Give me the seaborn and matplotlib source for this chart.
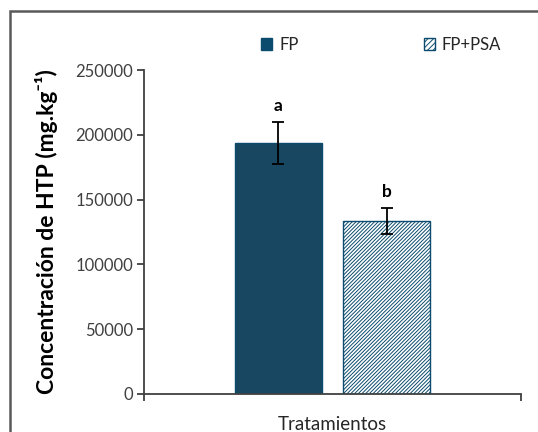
import matplotlib
matplotlib.use("Agg")
import matplotlib.pyplot as plt
import seaborn as sns
import pandas as pd
from matplotlib.patches import Rectangle, Patch

sns.set_theme(style="white")
plt.rcParams['font.family'] = ['Lato', 'DejaVu Sans']
plt.rcParams['hatch.linewidth'] = 0.7

category = ["Tratamientos"]
treatments = ["FP", "FP+PSA"]
means = [193500, 133500]
errors = [16000, 10000]
letters = ["a", "b"]

dark = "#0b4b6d"
axis_col = "#404040"
HATCH = "/" * 9

df = pd.DataFrame({"cat": category * len(treatments), "trat": treatments, "val": means})

fig = plt.figure(figsize=(5.38, 4.32), dpi=100)
ax = fig.add_axes([144/538, 38/432, 377/538, 324/432])

sns.barplot(data=df, x="cat", y="val", hue="trat", hue_order=treatments,
            palette=[dark, "white"], width=0.573, gap=0.2, errorbar=None,
            ax=ax, legend=False)

bars = [p for p in ax.patches]
for p, t in zip(bars, treatments):
    p.set_edgecolor(dark)
    p.set_linewidth(1.0)
    if t == "FP+PSA":
        p.set_hatch(HATCH)

xs = [p.get_x() + p.get_width()/2 for p in bars]
ax.errorbar(xs, means, yerr=errors, fmt="none", ecolor="black", elinewidth=1.3,
            capsize=4.5, capthick=1.3)
for x, m, e, l in zip(xs, means, errors, letters):
    ax.annotate(l, (x, m + e), xytext=(0, 6), textcoords="offset points",
                ha="center", va="bottom", fontsize=12.5, fontweight="bold", color="black")

ax.set_ylim(0, 250000)
ax.set_xlim(-0.5, 0.5)
ax.set_yticks(range(0, 250001, 50000))
ax.set_yticklabels([str(v) for v in range(0, 250001, 50000)], fontsize=12, color="#404040")
ax.set_xticks([-0.5, 0.5])
ax.set_xticklabels(["", ""])
ax.tick_params(axis="both", direction="out", length=5, width=1.3, color=axis_col,
               left=True, bottom=True, pad=3)
ax.set_xlabel("Tratamientos", fontsize=13.5, color="#262626", labelpad=8)
ax.set_ylabel("Concentración de HTP (mg.kg\u207b\u00b9)", fontsize=16.5,
              fontweight="bold", color="black", labelpad=12)
for s in ["top", "right"]:
    ax.spines[s].set_visible(False)
for s in ["left", "bottom"]:
    ax.spines[s].set_color(axis_col)
    ax.spines[s].set_linewidth(1.3)

handles = [Patch(facecolor=dark, edgecolor=dark, label="FP"),
           Patch(facecolor="white", edgecolor=dark, hatch="//////", label="FP+PSA")]
fig.legend(handles=handles, loc="center", bbox_to_anchor=(381/538, 1 - 45/432),
           ncol=2, frameon=False, fontsize=12, handlelength=0.7, handleheight=0.7,
           columnspacing=7.5, handletextpad=0.4, labelcolor="#262626")

fig.patches.append(Rectangle((10/538, -0.1), 1.2, (432-11)/432 + 0.1,
                             transform=fig.transFigure, fill=False,
                             edgecolor="#595959", linewidth=1.8))

fig.savefig("out.png", dpi=100)
